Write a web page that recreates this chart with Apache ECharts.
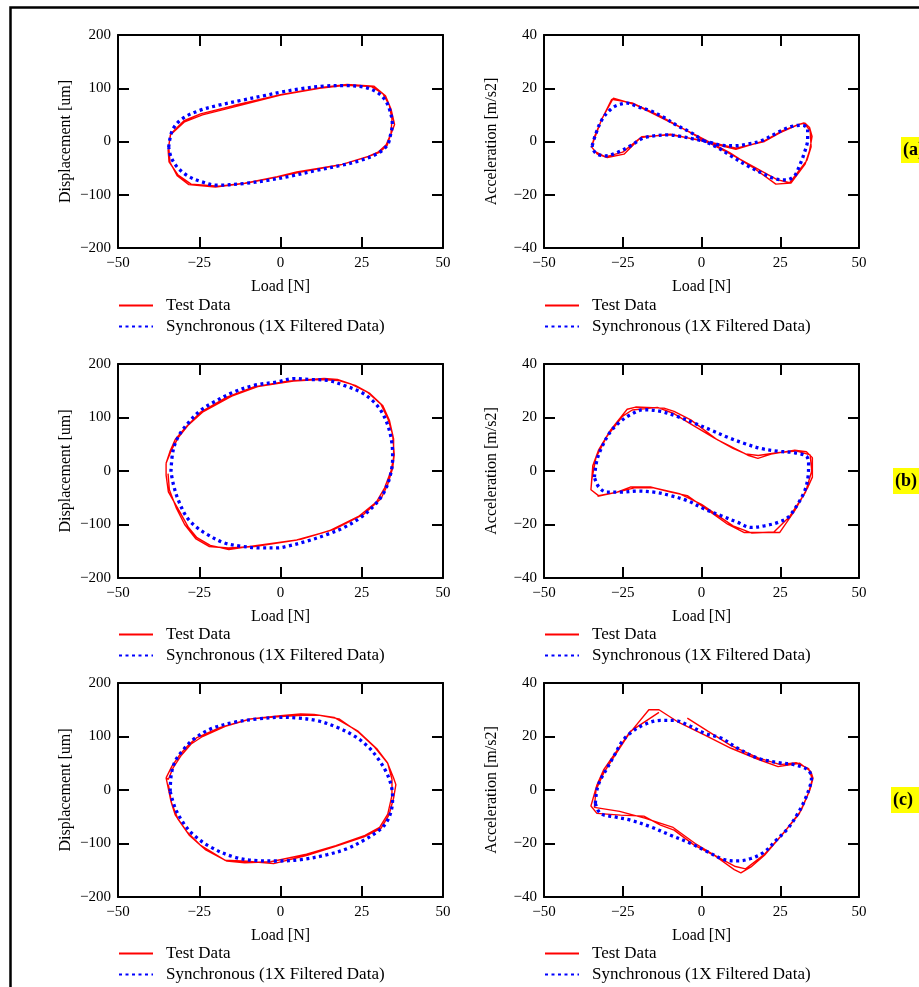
<!DOCTYPE html>
<html>
<head>
<meta charset="utf-8">
<script src="https://cdn.jsdelivr.net/npm/echarts@6/dist/echarts.min.js"></script>
<style>
html,body{margin:0;padding:0;background:#fff;}
#chart{width:919px;height:987px;}
</style>
</head>
<body>
<div id="chart"></div>
<script>
// ---------- DATA ----------
const loadTicks = [-50, -25, 0, 25, 50];
const dispTicks = [-200, -100, 0, 100, 200];
const accTicks = [-40, -20, 0, 20, 40];
const xName = 'Load [N]';
const dispName = 'Displacement [um]';
const accName = 'Acceleration [m/s2]';
const testName = 'Test Data';
const syncName = 'Synchronous (1X Filtered Data)';
const caseLabels = ['(a)', '(b)', '(c)'];

// (a) displacement
const blueA1 = [[-34.4,-10.6],[-33.3,20.6],[-30.3,42.5],[-24.6,59],[-19.5,67.5],[-12.3,77],[-5.1,86],[0,92.5],[6.2,99],[13.3,104],[19.5,105],[25.6,102],[29.7,92.5],[32.3,77],[33.8,55],[34.4,33],[33.8,11],[32.8,-7.5],[29.7,-23],[24.6,-35.6],[18.5,-45],[11.3,-54],[3.1,-65],[-4.1,-73],[-11.3,-79],[-19.5,-82],[-24.6,-75],[-28.7,-64],[-31.8,-48],[-33.7,-29],[-34.4,-10.6]];
const redA1 = [[-34.4,-9],[-33.8,14],[-29.7,39],[-24.6,52],[-14.4,67.5],[0,88],[13.3,102],[20.5,107],[28.7,104],[32.3,86],[34,61],[35.1,32],[33.8,11],[32.8,-7.5],[30.3,-21],[26.7,-29],[18.5,-44],[6.2,-57.5],[0,-65.6],[-10.3,-78],[-20,-85.6],[-28.2,-81],[-31.8,-64],[-34,-39],[-34.4,-9],
  [-33.9,12],[-29.5,37],[-24,50],[-13,67],[0,87],[12,100],[20,105.5],[28,103],[31.5,90],[33.5,68],[34.3,42],[34,15],[32.5,-6],[30,-20],[27,-28],[19,-43],[5,-57],[-1,-66],[-11,-78.5],[-19,-84],[-27.5,-80],[-31.5,-63],[-34.3,-38],[-34.6,-15]];
// (a) acceleration
const blueA2 = [[-34.7,-1.6],[-33.6,2.75],[-31.5,8.4],[-28.8,12.1],[-26.7,13.6],[-23.5,14.4],[-20.4,13.1],[-16.1,11.5],[-11.9,9],[-7.6,5.9],[-3.4,3.4],[0.8,0.25],[5.1,-2.25],[9.3,-5.4],[14.6,-9.1],[19.9,-12.3],[23.6,-14.1],[26.8,-14.4],[29.5,-12.9],[31.1,-9.1],[32.7,-4.1],[33.7,0.9],[33.7,4.6],[32.1,6.1],[28.4,5.6],[24.2,3.4],[18.9,0.25],[14.6,-1],[10.4,-1.6],[6.2,-1.4],[3,-0.4],[-2.3,0.9],[-6.6,1.9],[-10.8,2.5],[-15.1,2.1],[-18.8,1.1],[-22.5,-1.6],[-26.7,-4.1],[-30.4,-5.4],[-33.1,-4.75],[-34.4,-3.1],[-34.7,-1.6]];
const redA2 = [[-34.9,-2],[-33.9,2.1],[-31.5,8.75],[-28,16.25],[-21.4,14],[-11.9,8.4],[-0.2,1.5],[8.8,-4.1],[16,-9.5],[23.6,-16],[28.4,-15.6],[32.9,-8.5],[34.3,-3.5],[35.1,1.9],[34.3,5.25],[32.9,6.9],[31.1,6.5],[25.2,3.75],[19.9,0.25],[10.9,-2.9],[0,0.25],[-9.8,2.75],[-19.3,1.5],[-24.6,-4.75],[-29.9,-6],[-33.1,-4.75],[-34.9,-2],
  [-34,1],[-31.8,8],[-28.5,15.8],[-22,14.5],[-12.5,9.2],[0,1],[9.7,-5],[24,-14.3],[28,-15.5],[33.5,-7],[34.8,-2],[34.5,4],[32.5,7],[30,6],[25,3.3],[20,0],[11,-2.5],[0,0.5],[-10,2.5],[-19,1.8],[-25,-4],[-30.5,-5.8],[-34.2,-3.5]];
// (b) displacement
const blueB1 = [[-33.7,-1.3],[-33.1,36.7],[-31.4,65],[-28.3,90.5],[-24.7,112.7],[-20.6,128.5],[-14.4,147.5],[-8.2,160],[-1,166.5],[4.1,172.8],[9.3,171],[14.4,169.6],[19.5,160],[24.7,147.5],[28.3,131.6],[30.9,112.7],[32.9,87.3],[34.2,55.7],[34.5,24],[33.8,-7.6],[31.9,-39.2],[28.8,-64.6],[24.7,-86.7],[19.5,-105.7],[14.4,-118.4],[8.2,-131],[2.1,-140.5],[-1,-143.7],[-6.2,-143.7],[-12.3,-140.5],[-17.5,-134],[-22.6,-118.4],[-25.7,-105.7],[-28.8,-86.7],[-31.4,-55],[-32.9,-26.6],[-33.7,-1.3]];
const redB1 = [[-35.2,14.6],[-34,36.7],[-32.4,58.9],[-29.3,81],[-24.7,109.5],[-16.5,138],[-8.2,157],[2.1,168],[13.4,172.8],[17.5,171],[21.6,163],[26.7,147.5],[30.9,125],[33.1,96.8],[34.5,68.4],[35,30.4],[34.5,5],[32.9,-26.6],[30.9,-51.9],[25.7,-80.4],[16.5,-108.9],[6.2,-127.8],[-7.2,-139],[-15.9,-146.8],[-21.6,-139],[-25.7,-124.7],[-28.3,-105.7],[-30.9,-77.2],[-34.5,-39.2],[-35.2,-7.6],[-35.2,14.6],
  [-34.6,12],[-33.5,40],[-31.5,62],[-28.5,85],[-24,110],[-15,140],[-7,158],[4,168],[12,171],[18,169],[23,160],[27.5,145],[31.5,122],[33.5,95],[34.8,60],[34.8,25],[34,0],[32,-32],[29.5,-58],[24,-85],[15,-112],[5,-129],[-8,-141],[-16,-144],[-22,-141],[-26,-127],[-29.5,-100],[-32,-70],[-34.2,-35],[-34.6,-5]];
// (b) acceleration
const blueB2 = [[-34,-2.3],[-33.2,4],[-31.6,9],[-28.9,14.7],[-25.7,18.5],[-22.6,21],[-18.3,22.9],[-13,22.3],[-7.7,20.4],[-2.3,17.9],[3,15.3],[8.3,12.6],[13.6,10.3],[18.9,8.4],[24.3,7.4],[29.6,6.8],[33.3,5.5],[34,2.8],[33.8,-2.3],[32.8,-7.3],[30.6,-12.3],[27.4,-17.4],[24.3,-19.2],[20,-20.5],[15.7,-21.1],[11.5,-19.2],[6.2,-16.7],[0.9,-14.2],[-4.5,-11.1],[-9.8,-9.2],[-15.1,-7.9],[-20.4,-7.5],[-25.7,-7.9],[-30,-7.9],[-32.6,-6],[-34,-2.3]];
const redB2 = [[-35.1,-7],[-34.5,2.1],[-32.7,7.8],[-28.9,15.3],[-23.6,23.1],[-20.9,23.9],[-11.9,23.5],[-8.7,22.3],[-3.4,19.1],[5.1,11.6],[9.4,9.1],[14.7,5.9],[17.9,4.7],[22.1,6.3],[29.6,7.8],[33.3,7.2],[35.2,5],[35.2,-2.3],[33.8,-6],[29.6,-14.8],[24.8,-23],[13.6,-23],[8.3,-19.9],[-4.5,-9.2],[-9.8,-7.9],[-16.2,-6],[-22.6,-6],[-26.8,-7.9],[-32.7,-9.2],[-35.1,-7],
  [-34.8,-3],[-33.5,5],[-30,13],[-25,20.5],[-22,22.8],[-14,23.8],[-9,21.6],[-4,18],[4,12.4],[10,8.5],[14,6.4],[18,5.8],[24,6.8],[30,7.5],[34.5,6],[35,0],[33,-8],[28,-17],[23,-22.8],[16,-23.2],[10,-20.5],[0,-12.5],[-7,-8.5],[-15,-6.3],[-21,-6.2],[-27,-8],[-33,-9.5]];
// (c) displacement
const blueC1 = [[-33.95,-2.5],[-33.6,29],[-32.4,54],[-29.8,76],[-26.7,95],[-21.6,113.8],[-14.4,126.4],[-7.2,132.7],[0,135.8],[5.1,134.6],[11.3,129.6],[17.5,117],[22.6,101.3],[26.7,82.4],[29.8,60.4],[32.4,35.2],[34,10],[34.5,-15],[34,-40.3],[32.4,-62.3],[29.8,-78],[25.7,-93.7],[20.6,-109.4],[14.4,-120.8],[6.2,-130.2],[-1,-132.7],[-7.2,-132],[-14.4,-125],[-21.6,-106.3],[-26.7,-84.3],[-29.8,-62.3],[-32.4,-34],[-33.95,-2.5]];
const redC1 = [[-35.2,22.6],[-33.4,44.7],[-30.9,66.7],[-28.3,84.3],[-25.7,98],[-18.5,117],[-9.3,132.7],[0,139],[6.2,142],[10.3,141],[16.5,135.8],[23.7,110.7],[29.8,76],[32.9,51],[34.8,22.6],[35.5,10],[34.8,-15],[33.4,-46.5],[30.9,-71.7],[25.7,-87.4],[16.5,-106.3],[8.2,-122],[-2.1,-137.7],[-10.3,-133.3],[-17,-131.4],[-24.7,-103],[-28.8,-78],[-32.4,-46.5],[-33.7,-21.4],[-35.2,22.6],
  [-34.5,20],[-33,42],[-30.5,65],[-27.5,86],[-24,100],[-17,119],[-9,133],[0,137.5],[8,140],[12,139.5],[18,133],[24,108],[29,80],[33,50],[34.3,20],[34.3,-10],[33,-45],[30.5,-70],[26,-85],[17,-104],[8,-120],[-3,-134],[-11,-136],[-16.5,-133],[-23,-112],[-28,-85],[-31.5,-55],[-33.5,-25],[-34.5,10]];
// (c) acceleration
const blueC2 = [[-33.7,-5],[-33.2,0],[-32.1,3.75],[-30,8.1],[-27.9,12.5],[-25.2,18.1],[-22.6,21.25],[-18.3,24.4],[-13,26],[-8.7,26],[-4.5,24.4],[0.9,21.25],[6.2,19.4],[11.5,15.6],[17.9,11.9],[24.3,10.25],[29.6,9.4],[33.8,7.5],[34.9,4.4],[34.4,1.25],[32.8,-3.75],[30.6,-8.75],[27.4,-14.4],[23.7,-18.75],[20,-23.1],[15.7,-25.6],[11.5,-26.5],[7.2,-26],[1.9,-23.1],[-3.4,-20],[-9.8,-16.9],[-16.2,-13.75],[-22.6,-11.25],[-27.9,-10],[-32.1,-8.75],[-33.7,-5]];
const redC2 = [[-4.5,26.9],[2,22],[9.4,16.6],[18,12],[25,9.5],[30,10.2],[34,8],[35.2,4],[34,-1],[31,-9],[25,-17.5],[20,-24],[14,-29.5],[10.5,-28.5],[5,-25],[-2,-20],[-9,-14],[-18,-10.5],[-26,-8],[-34,-6.5],[-33.5,0],[-31,6.5],[-28,12],[-23,21],[-16.7,30],[-13.5,30],[-7.7,25.6],[0.9,20.6],[9.4,15.6],[17.9,11.5],[24.3,8.75],[31.2,10],[34.7,6.9],[35.4,4.4],[34.4,0],[31.7,-7.5],[26.4,-15.6],[20,-24.4],[15.7,-28.75],[12.5,-31],[10.4,-29.75],[4,-24.4],[-2.3,-20.6],[-8.7,-15],[-13,-13.1],[-18.3,-9.75],[-25.7,-9.4],[-33.2,-8.75],[-35.1,-6],[-33.2,1.9],[-31.1,7.5],[-22.6,21.9],[-13.5,29]];

// ---------- LAYOUT ----------
const FONT = '"Liberation Serif", "Times New Roman", serif';
const panels = [
  {grid:{left:118, top:35,  width:325, height:213}, yTicks:dispTicks, yName:dispName, red:redA1, blue:blueA1, legTop:297},
  {grid:{left:544, top:35,  width:315, height:213}, yTicks:accTicks,  yName:accName,  red:redA2, blue:blueA2, legTop:297},
  {grid:{left:118, top:364, width:325, height:214}, yTicks:dispTicks, yName:dispName, red:redB1, blue:blueB1, legTop:626},
  {grid:{left:544, top:364, width:315, height:214}, yTicks:accTicks,  yName:accName,  red:redB2, blue:blueB2, legTop:626},
  {grid:{left:118, top:683, width:325, height:214}, yTicks:dispTicks, yName:dispName, red:redC1, blue:blueC1, legTop:945},
  {grid:{left:544, top:683, width:315, height:214}, yTicks:accTicks,  yName:accName,  red:redC2, blue:blueC2, legTop:945}
];
const fmt = v => String(v).replace('-', '\u2212');
const grids = [], xAxes = [], yAxes = [], series = [], legends = [];
panels.forEach((p, i) => {
  grids.push(Object.assign({containLabel:false}, p.grid));
  const xmin = loadTicks[0], xmax = loadTicks[loadTicks.length-1], xint = loadTicks[1]-loadTicks[0];
  const ymin = p.yTicks[0], ymax = p.yTicks[p.yTicks.length-1], yint = p.yTicks[1]-p.yTicks[0];
  const tick = {show:true, inside:true, length:11, lineStyle:{color:'#000', width:2}};
  xAxes.push({type:'value', gridIndex:i, position:'bottom', min:xmin, max:xmax, interval:xint,
    axisLine:{show:true, onZero:false, lineStyle:{color:'#000', width:2}}, axisTick:tick,
    splitLine:{show:false},
    axisLabel:{formatter:fmt, color:'#000', fontFamily:FONT, fontSize:15, margin:8},
    name:xName, nameLocation:'middle', nameGap:31,
    nameTextStyle:{color:'#000', fontFamily:FONT, fontSize:16}});
  xAxes.push({type:'value', gridIndex:i, position:'top', min:xmin, max:xmax, interval:xint,
    axisLine:{show:true, onZero:false, lineStyle:{color:'#000', width:2}}, axisTick:tick,
    splitLine:{show:false}, axisLabel:{show:false}});
  yAxes.push({type:'value', gridIndex:i, position:'left', min:ymin, max:ymax, interval:yint,
    axisLine:{show:true, onZero:false, lineStyle:{color:'#000', width:2}}, axisTick:tick,
    splitLine:{show:false},
    axisLabel:{formatter:fmt, color:'#000', fontFamily:FONT, fontSize:15, margin:7},
    name:p.yName, nameLocation:'middle', nameGap:44,
    nameTextStyle:{color:'#000', fontFamily:FONT, fontSize:16}});
  yAxes.push({type:'value', gridIndex:i, position:'right', min:ymin, max:ymax, interval:yint,
    axisLine:{show:true, onZero:false, lineStyle:{color:'#000', width:2}}, axisTick:tick,
    splitLine:{show:false}, axisLabel:{show:false}});
  series.push({type:'line', name:testName, xAxisIndex:2*i, yAxisIndex:2*i, data:p.red,
    symbol:'none', showSymbol:false, smooth:false, animation:false,
    lineStyle:{color:'#ff0000', width:1.4}, itemStyle:{color:'#ff0000'}, z:2});
  series.push({type:'line', name:syncName, xAxisIndex:2*i, yAxisIndex:2*i, data:p.blue,
    symbol:'none', showSymbol:false, smooth:0.35, animation:false,
    lineStyle:{color:'#0000ff', width:3.3, type:[3,3.5]}, itemStyle:{color:'#0000ff'}, z:3});
  legends.push({show:true, orient:'vertical', left:p.grid.left, top:p.legTop, padding:0,
    data:[testName, syncName], selectedMode:false,
    itemWidth:34, itemHeight:14, itemGap:4,
    itemStyle:{color:'rgba(0,0,0,0)', borderWidth:0, opacity:0},
    textStyle:{color:'#000', fontFamily:FONT, fontSize:17, padding:[0,0,0,8]}});
});

const labelY = [150, 481, 800];
const labelX = [903, 895, 893];
const graphics = [
  {type:'polyline', shape:{points:[[10.5,987],[10.5,7.5],[919,7.5]]}, style:{stroke:'#000', lineWidth:2.5, fill:null}, silent:true}
];
caseLabels.forEach((t, i) => {
  graphics.push({type:'rect', shape:{x:labelX[i]-2, y:labelY[i]-13, width:30, height:26}, style:{fill:'#ffff00'}, silent:true});
  graphics.push({type:'text', x:labelX[i], y:labelY[i], style:{text:t, fill:'#000', font:'bold 18px ' + FONT, textVerticalAlign:'middle', textAlign:'left'}, silent:true});
});

const chart = echarts.init(document.getElementById('chart'), null, {renderer:'canvas'});
chart.setOption({
  backgroundColor:'#fff',
  animation:false,
  grid:grids, xAxis:xAxes, yAxis:yAxes, series:series, legend:legends,
  graphic:graphics
});
</script>
</body>
</html>
